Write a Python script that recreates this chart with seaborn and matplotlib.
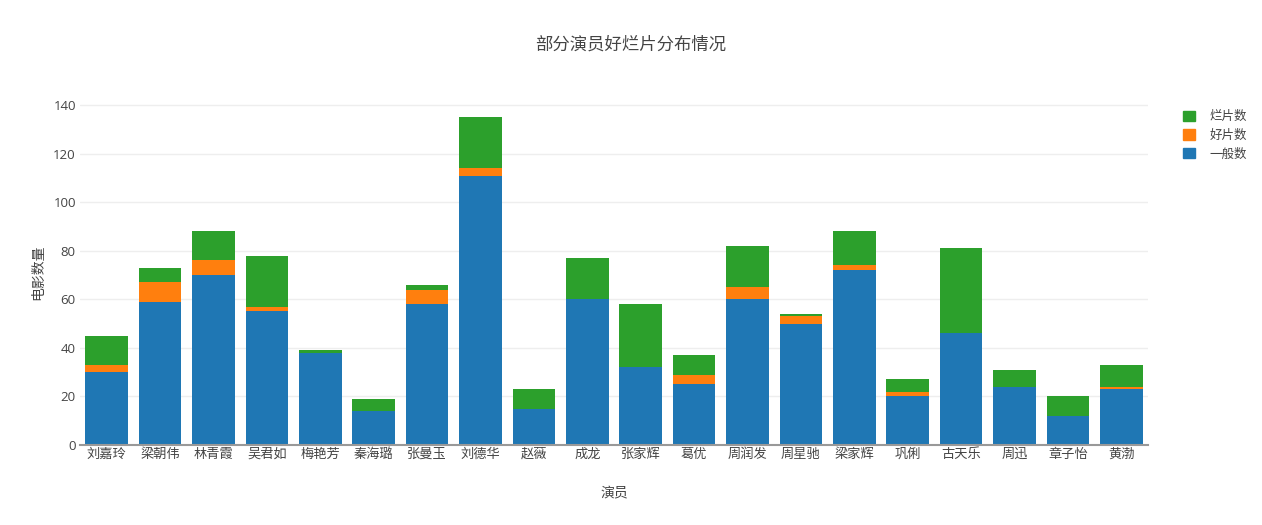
import matplotlib
matplotlib.use("Agg")
import matplotlib.pyplot as plt
import seaborn as sns
import numpy as np
from matplotlib.patches import Patch

actors = ["刘嘉玲", "梁朝伟", "林青霞", "吴君如", "梅艳芳", "秦海璐", "张曼玉", "刘德华", "赵薇", "成龙",
          "张家辉", "葛优", "周润发", "周星驰", "梁家辉", "巩俐", "古天乐", "周迅", "章子怡", "黄渤"]
normal = [30, 59, 70, 55, 38, 14, 58, 111, 15, 60, 32, 25, 60, 50, 72, 20, 46, 24, 12, 23]
good = [3, 8, 6, 2, 0, 0, 6, 3, 0, 0, 0, 4, 5, 3, 2, 2, 0, 0, 0, 1]
bad = [12, 6, 12, 21, 1, 5, 2, 21, 8, 17, 26, 8, 17, 1, 14, 5, 35, 7, 8, 9]

sns.set_theme(style="white")
plt.rcParams['font.family'] = ['Open Sans', 'Noto Sans CJK SC', 'DejaVu Sans']

c_normal = "#1f77b4"
c_good = "#ff7f0e"
c_bad = "#2ca02c"
txt = "#444444"

n = np.array(normal)
g = np.array(good)
b = np.array(bad)

fig = plt.figure(figsize=(12.62, 5.25), dpi=100)
ax = fig.add_axes([80/1262, (525-445)/525, (1148-80)/1262, (445-100)/525])

sns.barplot(x=actors, y=n + g + b, color=c_bad, width=0.8, saturation=1, ax=ax, linewidth=0)
sns.barplot(x=actors, y=n + g, color=c_good, width=0.8, saturation=1, ax=ax, linewidth=0)
sns.barplot(x=actors, y=n, color=c_normal, width=0.8, saturation=1, ax=ax, linewidth=0)

ax.set_xlim(-0.5, len(actors) - 0.5)
ax.set_ylim(0, 142.1)
ax.set_yticks([0, 20, 40, 60, 80, 100, 120, 140])
ax.yaxis.grid(True, color="#eeeeee", linewidth=1)
ax.set_axisbelow(True)
for s in ["top", "right", "left"]:
    ax.spines[s].set_visible(False)
ax.spines["bottom"].set_color("#999999")
ax.spines["bottom"].set_linewidth(1.5)
ax.tick_params(axis="both", length=0, labelsize=9.5, colors=txt, pad=2)
ax.tick_params(axis="y", pad=3)

ax.set_xlabel("演员", fontsize=10, color=txt, labelpad=18)
ax.set_ylabel("电影数量", fontsize=10, color=txt, labelpad=5)
fig.text(631/1262, 1 - 45/525, "部分演员好烂片分布情况", ha="center", va="center", fontsize=12.5, color=txt)

handles = [Patch(color=c_bad, label="烂片数"), Patch(color=c_good, label="好片数"), Patch(color=c_normal, label="一般数")]
fig.legend(handles=handles, loc="upper left", bbox_to_anchor=(1172/1262, 1 - 99/525), frameon=False,
           fontsize=9, labelcolor=txt, handlelength=0.9, handleheight=0.9, handletextpad=1.2, labelspacing=0.45)

fig.savefig("out.png", dpi=100, facecolor="white")
